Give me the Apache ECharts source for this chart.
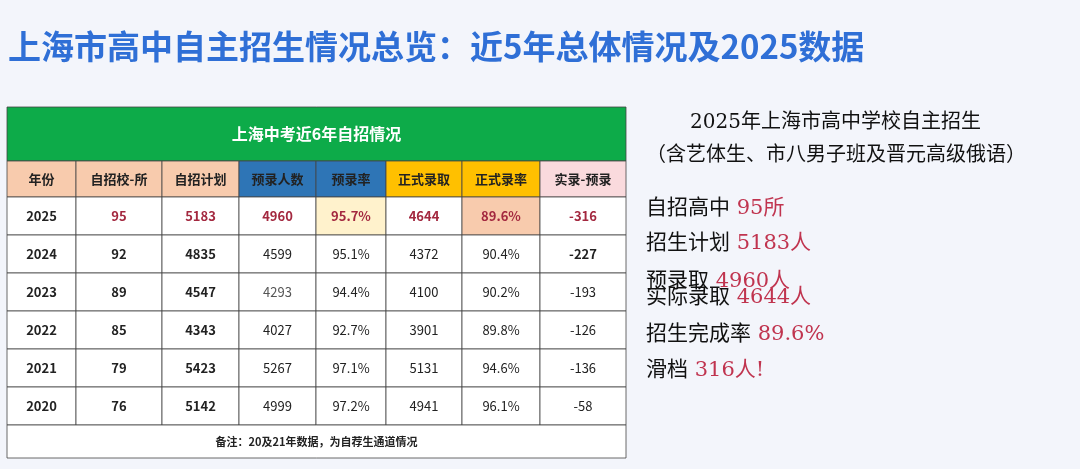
<!DOCTYPE html>
<html><head><meta charset="utf-8">
<script src="https://cdn.jsdelivr.net/npm/echarts@6/dist/echarts.min.js"></script>
<style>html,body{margin:0;background:#f3f5fb}#c{width:1080px;height:469px}</style>
</head><body><div id="c"></div>
<script>
// 表格数据
var headers = ['年份', '自招校-所', '自招计划', '预录人数', '预录率', '正式录取', '正式录率', '实录-预录'];
var years = ['2025', '2024', '2023', '2022', '2021', '2020'];
var schools = [95, 92, 89, 85, 79, 76];
var plans = [5183, 4835, 4547, 4343, 5423, 5142];
var preAdmit = [4960, 4599, 4293, 4027, 5267, 4999];
var preRate = ['95.7%', '95.1%', '94.4%', '92.7%', '97.1%', '97.2%'];
var formal = [4644, 4372, 4100, 3901, 5131, 4941];
var formalRate = ['89.6%', '90.4%', '90.2%', '89.8%', '94.6%', '96.1%'];
var diffs = [-316, -227, -193, -126, -136, -58];

// 布局
var colEdges = [0, 69, 155, 232, 309, 379, 455, 533, 619];
var rowEdges = [0, 54, 90, 128, 166, 204, 242, 280, 318, 351];
var headBg = ['#f8cbad', '#f8cbad', '#f8cbad', '#2e75b6', '#2e75b6', '#ffc000', '#ffc000', '#fadadd'];
var red = '#a3283f';

var cells = [];
// 标题行
cells.push({value: [0, 8, 0], text: '上海中考近6年自招情况', bg: '#0dab49', color: '#fff', size: 16, bold: true});
headers.forEach(function (h, i) {
  cells.push({value: [i, i + 1, 1], text: h, bg: headBg[i], color: '#222', size: 13, bold: true});
});
years.forEach(function (y, r) {
  var row = [y, schools[r], plans[r], preAdmit[r], preRate[r], formal[r], formalRate[r], diffs[r]];
  row.forEach(function (v, i) {
    var c = {value: [i, i + 1, r + 2], text: String(v), bg: '#fff', color: '#222', size: 13, bold: i < 3};
    if (r === 0) {
      c.bold = true;
      if (i > 0) c.color = red;
      if (i === 4) c.bg = '#fff2cc';
      if (i === 6) c.bg = '#f8cbad';
    }
    if (r === 1 && i === 7) c.bold = true;
    if (r > 0 && i === 7) c.color = '#222';
    if (r === 2 && i === 3) c.color = '#555';
    cells.push(c);
  });
});
cells.push({value: [0, 8, 8], text: '备注：20及21年数据，为自荐生通道情况', bg: '#fff', color: '#222', size: 11, bold: true});

var rightLines = [
  ['自招高中', ' 95所', 211],
  ['招生计划', ' 5183人', 246],
  ['预录取', ' 4960人', 284],
  ['实际录取', ' 4644人', 300],
  ['招生完成率', ' 89.6%', 337],
  ['滑档', ' 316人!', 373]
];
var serif = '"DejaVu Serif","Noto Sans CJK SC",serif';
var graphics = [
  {type: 'text', left: 8, top: 30, style: {text: '上海市高中自主招生情况总览：近5年总体情况及2025数据', fill: '#2f6fd6', font: 'bold 33px "Noto Sans CJK SC"'}},
  {type: 'text', left: 690, top: 113, style: {text: '2025年上海市高中学校自主招生', fill: '#111', font: '20px ' + serif}},
  {type: 'text', left: 646, top: 146, style: {text: '（含艺体生、市八男子班及晋元高级俄语）', fill: '#111', font: '20px ' + serif}}
];
rightLines.forEach(function (l) {
  graphics.push({type: 'text', left: 646, top: l[2] - 13, style: {
    text: '{a|' + l[0] + '}{b|' + l[1] + '}',
    rich: {a: {fill: '#111', font: '21px ' + serif}, b: {fill: '#c0344f', font: '21px ' + serif}}
  }});
});

var chart = echarts.init(document.getElementById('c'));
chart.setOption({
  backgroundColor: '#f3f5fb',
  graphic: graphics,
  grid: {left: 7, top: 107, width: 619, height: 351},
  xAxis: {type: 'value', min: 0, max: 619, show: false},
  yAxis: {type: 'value', min: 0, max: 351, inverse: true, show: false},
  series: [{
    type: 'custom',
    data: cells,
    renderItem: function (params, api) {
      var c = cells[params.dataIndex];
      var r = api.value(2);
      var p0 = api.coord([colEdges[api.value(0)], rowEdges[r]]);
      var p1 = api.coord([colEdges[api.value(1)], rowEdges[r + 1]]);
      return {
        type: 'rect',
        shape: {x: p0[0], y: p0[1], width: p1[0] - p0[0], height: p1[1] - p0[1]},
        style: {fill: c.bg, stroke: '#444', lineWidth: 0.8},
        textContent: {style: {text: c.text, fill: c.color, font: (c.bold ? 'bold ' : '') + c.size + 'px "Noto Sans CJK SC"'}},
        textConfig: {position: 'inside'}
      };
    }
  }]
});
</script></body></html>
